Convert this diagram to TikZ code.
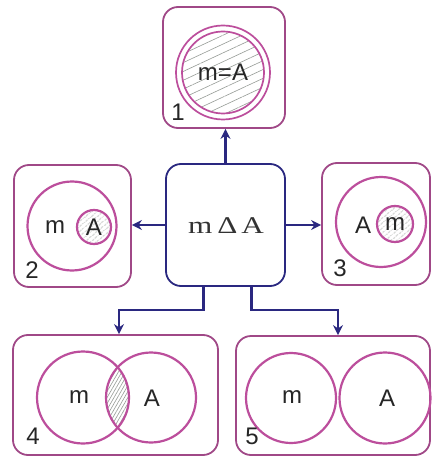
\documentclass[tikz,border=0pt]{standalone}
\usepackage{fontspec}
\setmainfont{Liberation Sans}
\newfontfamily\serifface{Liberation Serif}
\usetikzlibrary{arrows.meta, patterns.meta}
\definecolor{boxpink}{RGB}{160,72,135}
\definecolor{ringpink}{RGB}{188,78,156}
\definecolor{navy}{RGB}{42,40,128}
\definecolor{hatch}{RGB}{150,155,150}

\begin{document}
\begin{tikzpicture}[x = 1pt, y = -1pt, line width = 1.8pt,
                        box/.style = {rectangle, draw = boxpink, fill = white, rounded corners = 15pt},
                        ring/.style = {circle, draw = ringpink, line width = 2.2pt, inner sep = 0pt},
                        txt/.style = {font = \fontsize{24}{26}\selectfont, text = black!85, inner sep = 0pt},
                        hatched/.style = {pattern = {Lines[angle = #1, distance = 4pt, line width = 0.6pt]}, pattern color = hatch},
                        arr/.style = {draw = navy, line width = 2.2pt, -{Stealth[length = 10pt, width = 10pt]}}]
        \useasboundingbox (0,0) rectangle (432,457);

        \node [box, minimum width = 122pt, minimum height = 121pt] (B1) at (224,67.5) {};
        \node [box, draw = navy, minimum width = 119pt, minimum height = 122pt] (B0) at (225.5,225) {};
        \node [box, minimum width = 117pt, minimum height = 122pt] (B2) at (72.5,226) {};
        \node [box, minimum width = 108pt, minimum height = 122pt] (B3) at (376,224) {};
        \node [box, minimum width = 205pt, minimum height = 120pt] (B4) at (115.5,395) {};
        \node [box, minimum width = 194pt, minimum height = 119pt] (B5) at (333,395.5) {};

        % 1: m = A
        \node [ring, line width = 1.7pt, minimum size = 94pt] (R11) at (223,72.5) {};
        \node [ring, line width = 1.7pt, pattern = {Lines[angle = 25, distance = 8pt, line width = 0.6pt]}, pattern color = hatch, minimum size = 82pt] (R12) at (223,72.5) {};
        \node [txt] (E1) at (223,72) {m=A};
        \node [txt] (N1) at (178,112) {1};

        % 2: m contains A
        \node [ring, minimum size = 89pt] (R21) at (72,226) {};
        \node [ring, hatched = 40, minimum size = 34pt] (R22) at (94,227) {};
        \node [txt] (E21) at (55,227) {m};
        \node [txt] (E22) at (94,227) {A};
        \node [txt] (N2) at (32,270) {2};

        % 3: A contains m
        \node [ring, minimum size = 90pt] (R31) at (381,222) {};
        \node [ring, hatched = 40, minimum size = 36pt] (R32) at (395,224) {};
        \node [txt] (E31) at (363,225) {A};
        \node [txt] (E32) at (395,224) {m};
        \node [txt] (N3) at (340,268) {3};

        % 4: overlap
        \begin{scope}
            \clip (83,397.5) circle (46pt);
            \fill [pattern = {Lines[angle = 60, distance = 3pt, line width = 0.6pt]}, pattern color = hatch] (151,397.5) circle (45pt);
        \end{scope}
        \node [ring, minimum size = 92pt] (R41) at (83,397.5) {};
        \node [ring, minimum size = 90pt] (R42) at (151,397.5) {};
        \node [txt] (E41) at (79,397) {m};
        \node [txt] (E42) at (152,398) {A};
        \node [txt] (N4) at (33,436) {4};

        % 5: apart
        \node [ring, minimum size = 90pt] (R51) at (291,398) {};
        \node [ring, minimum size = 91pt] (R52) at (385,398) {};
        \node [txt] (E51) at (292,397) {m};
        \node [txt] (E52) at (387,398) {A};
        \node [txt] (N5) at (252,436) {5};

        % centre
        \node [txt, text = black!80] (E0) at (226,226) {\serifface\scalebox{1.3}[1]{m\hspace{4pt}Δ\hspace{3pt}A}};

        \coordinate (K4) at (119,310);
        \coordinate (K5) at (338,310);

        \draw [arr] (B0.north) -- (B0.north |- B1.south);
        \draw [arr] (B0.west) -- (B0.west -| B2.east);
        \draw [arr] (B0.east) -- (B0.east -| B3.west);
        \draw [arr] ([xshift = -22pt]B0.south) |- (K4) -- (K4 |- B4.north);
        \draw [arr] ([xshift = 26pt]B0.south) |- (K5) -- (K5 |- B5.north);
\end{tikzpicture}
\end{document}
